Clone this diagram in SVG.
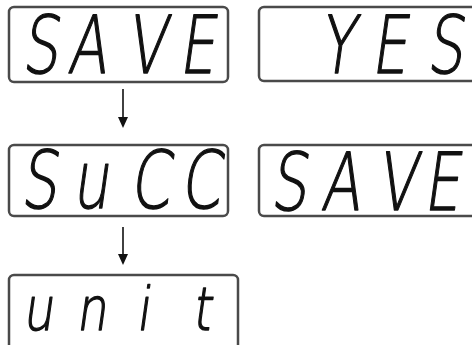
<svg xmlns="http://www.w3.org/2000/svg" width="472" height="345" viewBox="0 0 472 345">
<style>
.box{fill:#fff;stroke:#4a4a4a;stroke-width:2.5}
.seg{font-family:"DejaVu Sans","Liberation Sans",sans-serif;font-weight:200;font-size:80px;fill:#111;stroke:#111;stroke-width:1.4;stroke-linejoin:round}
.conn{stroke:#111;stroke-width:1.6;fill:none}
.head{fill:#111}
</style>
<rect width="472" height="345" fill="#fff"/>
<g id="node-save1">
<rect class="box" x="9" y="7" width="219" height="75" rx="5"/>
<g transform="translate(0,73) skewX(-8) scale(0.72,1)"><text class="seg" x="30 93 175 248" y="0">SAVE</text></g>
</g>
<g id="node-yes">
<rect class="box" x="259" y="7" width="225" height="74" rx="5"/>
<g transform="translate(0,73) skewX(-8) scale(0.72,1)"><text class="seg" x="443 515 592" y="0">YES</text></g>
</g>
<g id="node-succ">
<rect class="box" x="9" y="145" width="219" height="71" rx="5"/>
<g transform="translate(0,208) skewX(-8) scale(0.72,1)"><text class="seg" x="28 100 180 250" y="0">SuCC</text></g>
</g>
<g id="node-save2">
<rect class="box" x="259" y="145" width="225" height="71" rx="5"/>
<g transform="translate(0,210) skewX(-8) scale(0.72,1)"><text class="seg" x="375 445 523 588" y="0">SAVE</text></g>
</g>
<g id="node-unit">
<rect class="box" x="9" y="275" width="229" height="78" rx="5"/>
<g transform="translate(0,330) skewX(-8) scale(0.8,1)"><text class="seg" style="font-size:60px" x="28 95 170 240" y="0">unit</text></g>
</g>
<g id="connectors">
<line class="conn" x1="123" y1="89" x2="123" y2="118"/>
<path class="head" d="M118,117 L128,117 L123,128 Z"/>
<line class="conn" x1="123" y1="227" x2="123" y2="255"/>
<path class="head" d="M118,254 L128,254 L123,265 Z"/>
</g>
</svg>
